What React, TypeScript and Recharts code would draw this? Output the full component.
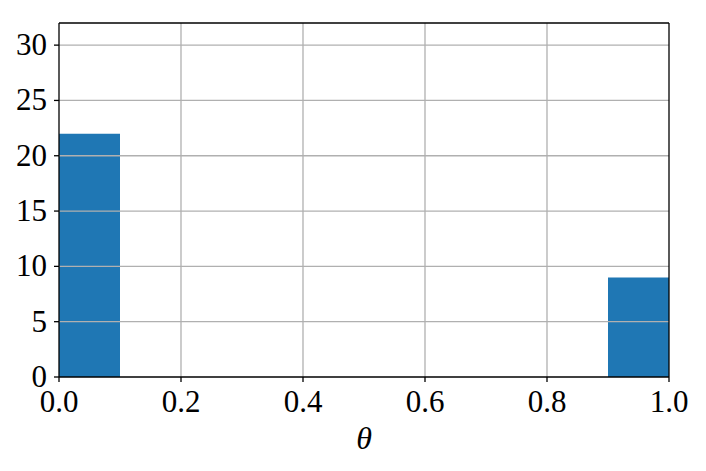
import { BarChart, Bar, XAxis, YAxis, ReferenceLine } from "recharts";

const binCenters = [0.05, 0.15, 0.25, 0.35, 0.45, 0.55, 0.65, 0.75, 0.85, 0.95];
const counts = [22, 0, 0, 0, 0, 0, 0, 0, 0, 9];
const xTicks = [0, 0.2, 0.4, 0.6, 0.8, 1.0];
const yTicks = [0, 5, 10, 15, 20, 25, 30];
const yMax = 32;

const data = binCenters.map((x, i) => ({ x, count: counts[i] }));

const font = "'Liberation Serif', 'DejaVu Serif', serif";

const XTick = (props: any) => {
  const { x, y, payload } = props;
  return (
    <text x={x} y={y + 28} textAnchor="middle" fontFamily={font} fontSize={31} fill="#000">
      {Number(payload.value).toFixed(1)}
    </text>
  );
};

const YTick = (props: any) => {
  const { x, y, payload } = props;
  return (
    <text x={x} y={y + 10} textAnchor="end" fontFamily={font} fontSize={31} fill="#000">
      {payload.value}
    </text>
  );
};

export default function App() {
  return (
    <div style={{ position: "absolute", left: 0, top: 0, background: "#fff" }}>
      <BarChart
        width={706}
        height={471}
        data={data}
        barCategoryGap={0}
        barGap={0}
        margin={{ top: 23, right: 37, left: 0, bottom: 0 }}
      >
        <XAxis
          dataKey="x"
          type="number"
          domain={[0, 1]}
          ticks={xTicks}
          tick={<XTick />}
          tickSize={5}
          tickMargin={2}
          height={94}
          axisLine={{ stroke: "#000", strokeWidth: 1.3 }}
          tickLine={{ stroke: "#000", strokeWidth: 1.3 }}
          allowDataOverflow
          padding={{ left: 0, right: 0 }}
          label={{
            value: "θ",
            position: "insideBottom",
            offset: 22,
            style: { fontFamily: font, fontStyle: "italic", fontSize: 32, fill: "#000" },
          }}
        />
        <YAxis
          type="number"
          domain={[0, yMax]}
          ticks={yTicks}
          tick={<YTick />}
          tickSize={5}
          tickMargin={7}
          width={59}
          axisLine={{ stroke: "#000", strokeWidth: 1.3 }}
          tickLine={{ stroke: "#000", strokeWidth: 1.3 }}
          allowDataOverflow
        />
        <Bar dataKey="count" fill="#1f77b4" isAnimationActive={false} />
        {yTicks.slice(1).map((t) => (
          <ReferenceLine key={`y${t}`} y={t} stroke="#b0b0b0" strokeWidth={1.3} />
        ))}
        {xTicks.slice(1, -1).map((t) => (
          <ReferenceLine key={`x${t}`} x={t} stroke="#b0b0b0" strokeWidth={1.3} />
        ))}
        <ReferenceLine y={yMax} stroke="#000" strokeWidth={1.3} />
        <ReferenceLine x={1} stroke="#000" strokeWidth={1.3} />
      </BarChart>
    </div>
  );
}
